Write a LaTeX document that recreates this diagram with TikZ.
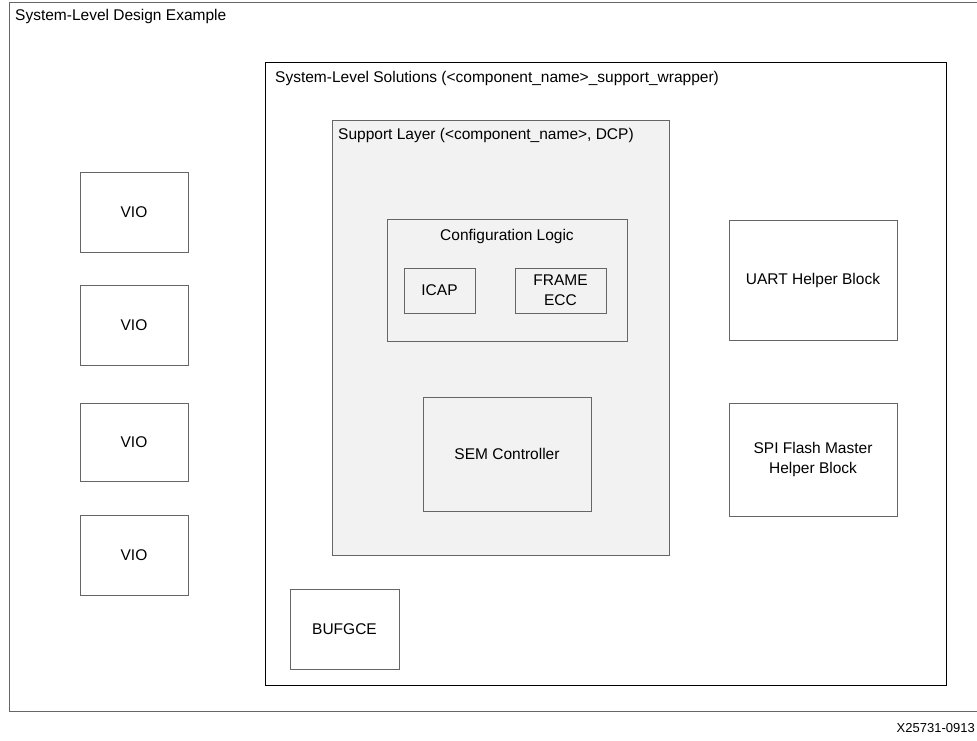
\documentclass[tikz,border=0pt]{standalone}
\usepackage{fontspec}
\setmainfont{Liberation Sans}
\tikzset{
  blk/.style={draw=black!60, line width=1pt, align=center, font=\fontsize{15.5}{20}\selectfont},
  lbl/.style={anchor=north west, inner sep=0pt, font=\fontsize{15.5}{20}\selectfont},
}
\begin{document}
\begin{tikzpicture}[x=1pt,y=-1pt]
\clip (0,0) rectangle (977,740);
\fill[white] (0,0) rectangle (977,740);
% outer frames
\draw[black!60, line width=1pt] (990,2) -- (9,2) -- (9,711) -- (990,711);
\node[lbl] (sys) at (15,9) {System-Level Design Example};
\draw[black, line width=1pt] (265,62) rectangle (946,685);
\node[lbl] (sol) at (275,71) {System-Level Solutions (<component\_name>\_support\_wrapper)};
\draw[black!60, line width=1pt, fill=black!5] (332,120) rectangle (669,555);
\node[lbl] (sup) at (338,128) {Support Layer (<component\_name>, DCP)};
\draw[black!60, line width=1pt] (387,219) rectangle (627,341);
\node[font=\fontsize{15.5}{20}\selectfont] (cfg) at (507,236) {Configuration Logic};
% blocks
\node[blk, minimum width=71pt, minimum height=45pt] (icap) at (439.5,290.5) {ICAP};
\node[blk, minimum width=91pt, minimum height=45pt] (ecc) at (560.5,290.5) {FRAME\\ECC};
\node[blk, minimum width=168pt, minimum height=114pt] (sem) at (507,454) {SEM Controller};
\node[blk, minimum width=168pt, minimum height=120pt] (uart) at (813,280) {UART Helper Block};
\node[blk, minimum width=168pt, minimum height=113pt] (spi) at (813,459.5) {SPI Flash Master\\Helper Block};
\node[blk, minimum width=108pt, minimum height=80pt] (vio1) at (134,212) {VIO};
\node[blk, minimum width=108pt, minimum height=80pt] (vio2) at (134,325) {VIO};
\node[blk, minimum width=108pt, minimum height=78pt] (vio3) at (134,442) {VIO};
\node[blk, minimum width=108pt, minimum height=80pt] (vio4) at (134,555) {VIO};
\node[blk, minimum width=109pt, minimum height=80pt] (bufg) at (344.5,629) {BUFGCE};
\node[anchor=east, inner sep=0pt, font=\fontsize{13}{15}\selectfont] (fig) at (975,728) {X25731-0913};
\end{tikzpicture}
\end{document}
